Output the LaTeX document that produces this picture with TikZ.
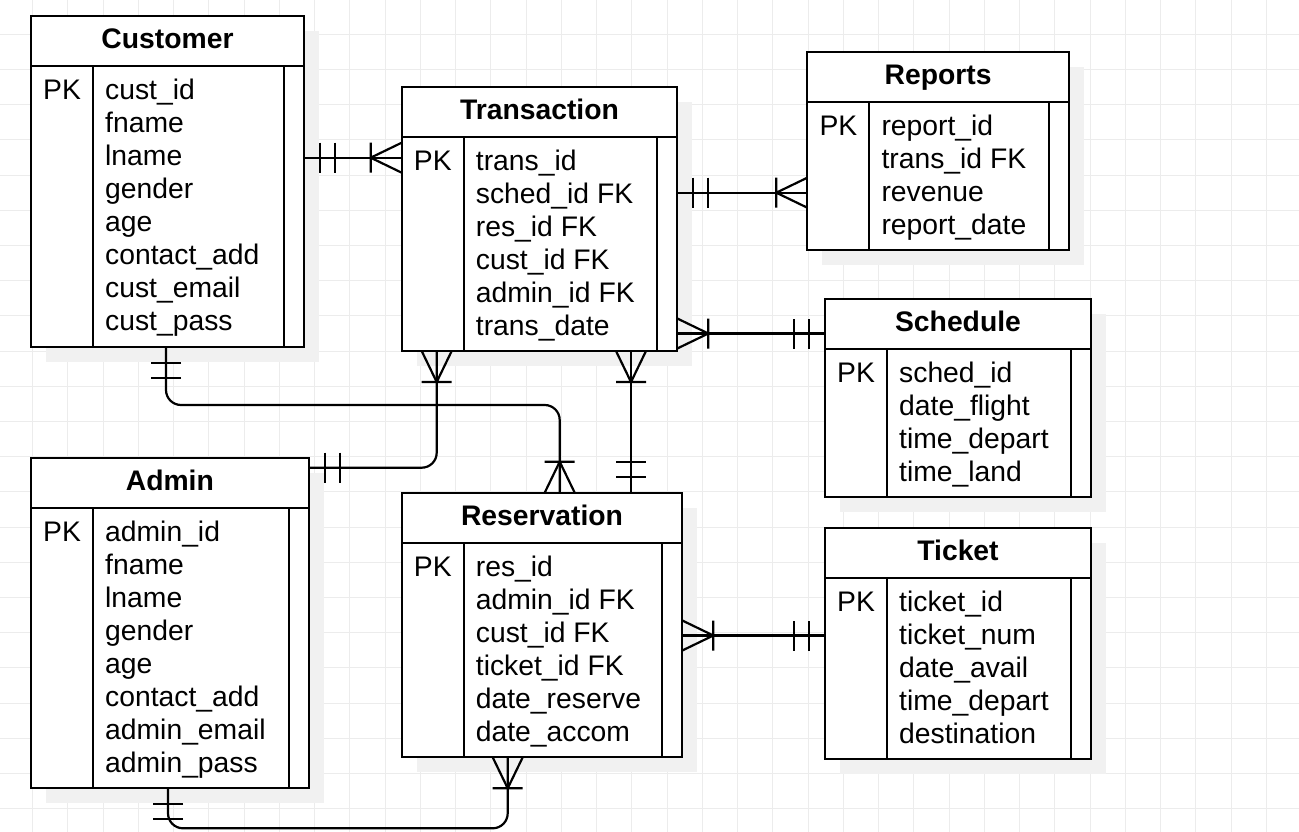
\documentclass[tikz,border=0pt]{standalone}
\usepackage{fontspec}
\setmainfont{Liberation Sans}
\usetikzlibrary{calc}
\definecolor{gridc}{RGB}{236,236,236}
\definecolor{shadowc}{RGB}{241,241,241}
\tikzset{
  tblbox/.style={draw=black, line width=2.2pt, fill=white, inner sep=0pt, outer sep=0pt, rectangle},
  tline/.style={draw=black, line width=2.2pt},
  conn/.style={draw=black, line width=2.2pt, line cap=butt},
  gridl/.style={draw=gridc, line width=1pt},
  fld/.style={anchor=base west, inner sep=0pt, font=\fontsize{28.3}{33}\selectfont},
  ttl/.style={anchor=base, inner sep=0pt, font=\fontsize{28.3}{33}\selectfont\bfseries},
}
\newcommand\erOne[2]{\begin{scope}[shift={(#1)},rotate=#2]\draw[conn] (16,-15)--(16,15) (31,-15)--(31,15);\end{scope}}
\newcommand\erMany[2]{\begin{scope}[shift={(#1)},rotate=#2]\draw[conn] (0,15)--(31,0)--(0,-15) (31,-15)--(31,15);\end{scope}}
\newcommand\erShadow[4]{\fill[shadowc] ({#1+15},{#2+15}) rectangle ({#3+15},{#4+15});}
% #1 name #2 L #3 T #4 R #5 B #6 title #7 fields
\newcommand\erTable[7]{%
  \node[tblbox, minimum width={#4-#2}, minimum height={#5-#3}, anchor=north west] (#1) at (#2,#3) {};
  \draw[tline] (#2,{#3+50}) -- (#4,{#3+50});
  \draw[tline] ({#2+62},{#3+50}) -- ({#2+62},#5);
  \draw[tline] ({#4-20},{#3+50}) -- ({#4-20},#5);
  \node[ttl] (#1-title) at ({(#2+#4)/2},{#3+32.5}) {#6};
  \node[fld] (#1-pk) at ({#2+12},{#3+83.5}) {PK};
  \foreach \f [count=\i] in {#7} {
    \node[fld] (#1-f\i) at ({#2+74},{#3+83.5+33*(\i-1)}) {\f};
  }
}
\begin{document}
\begin{tikzpicture}[x=1pt,y=-1pt]
\useasboundingbox (0,0) rectangle (1299,832);
\fill[white] (0,0) rectangle (1299,832);
\foreach \k in {0,...,35} {\draw[gridl] ({32.7+35.25*\k},0) -- ({32.7+35.25*\k},832);}
\foreach \k in {0,...,22} {\draw[gridl] (0,{34.3+35.2*\k}) -- (1299,{34.3+35.2*\k});}
% shadows
\erShadow{31}{15.7}{304}{347}
\erShadow{401.7}{87.3}{677.3}{351}
\erShadow{807.3}{51.7}{1069}{250}
\erShadow{825}{299}{1091}{496.7}
\erShadow{825}{527.7}{1091}{759}
\erShadow{401.7}{492.7}{682.3}{757.3}
\erShadow{31}{457.7}{308.7}{787.7}
% tables
\erTable{cust}{31}{15.7}{304}{347}{Customer}{cust\_id,fname,lname,gender,age,contact\_add,cust\_email,cust\_pass}
\erTable{trans}{401.7}{87.3}{677.3}{351}{Transaction}{trans\_id,sched\_id FK,res\_id FK,cust\_id FK,admin\_id FK,trans\_date}
\erTable{rep}{807.3}{51.7}{1069}{250}{Reports}{report\_id,trans\_id FK,revenue,report\_date}
\erTable{sched}{825}{299}{1091}{496.7}{Schedule}{sched\_id,date\_flight,time\_depart,time\_land}
\erTable{tick}{825}{527.7}{1091}{759}{Ticket}{ticket\_id,ticket\_num,date\_avail,time\_depart,destination}
\erTable{res}{401.7}{492.7}{682.3}{757.3}{Reservation}{res\_id,admin\_id FK,cust\_id FK,ticket\_id FK,date\_reserve,date\_accom}
\erTable{adm}{31}{457.7}{308.7}{787.7}{Admin}{admin\_id,fname,lname,gender,age,contact\_add,admin\_email,admin\_pass}
% Customer - Transaction
\coordinate (a1) at (cust.east |- 0,157.7);
\coordinate (a2) at (trans.west |- 0,157.7);
\draw[conn] (a1) -- (a2);
\erOne{a1}{0}\erMany{a2}{180}
% Transaction - Reports
\coordinate (b1) at (trans.east |- 0,192.7);
\coordinate (b2) at (rep.west |- 0,192.7);
\draw[conn] (b1) -- (b2);
\erOne{b1}{0}\erMany{b2}{180}
% Transaction - Schedule
\coordinate (g1) at (trans.east |- 0,333.5);
\coordinate (g2) at (sched.west |- 0,333.5);
\draw[conn] (g1) -- (g2);
\erMany{g1}{0}\erOne{g2}{180}
% Reservation - Ticket
\coordinate (h1) at (res.east |- 0,635.5);
\coordinate (h2) at (tick.west |- 0,635.5);
\draw[conn] (h1) -- (h2);
\erMany{h1}{0}\erOne{h2}{180}
% Customer - Reservation
\coordinate (c1) at (cust.south -| 166,0);
\coordinate (c2) at (res.north -| 559.7,0);
\draw[conn, rounded corners=15pt] (c1) -- (c1 |- 0,405) -- (c2 |- 0,405) -- (c2);
\erOne{c1}{-90}\erMany{c2}{90}
% Admin - Transaction
\coordinate (d1) at (adm.east |- 0,467.7);
\coordinate (d2) at (trans.south -| 436.7,0);
\draw[conn, rounded corners=15pt] (d1) -| (d2);
\erOne{d1}{0}\erMany{d2}{-90}
% Transaction - Reservation
\coordinate (e1) at (trans.south -| 631,0);
\coordinate (e2) at (res.north -| 631,0);
\draw[conn] (e1) -- (e2);
\erMany{e1}{-90}\erOne{e2}{90}
% Admin - Reservation
\coordinate (f1) at (adm.south -| 168,0);
\coordinate (f2) at (res.south -| 507.7,0);
\draw[conn, rounded corners=15pt] (f1) -- (f1 |- 0,828.3) -- (f2 |- 0,828.3) -- (f2);
\erOne{f1}{-90}\erMany{f2}{-90}
\end{tikzpicture}
\end{document}
